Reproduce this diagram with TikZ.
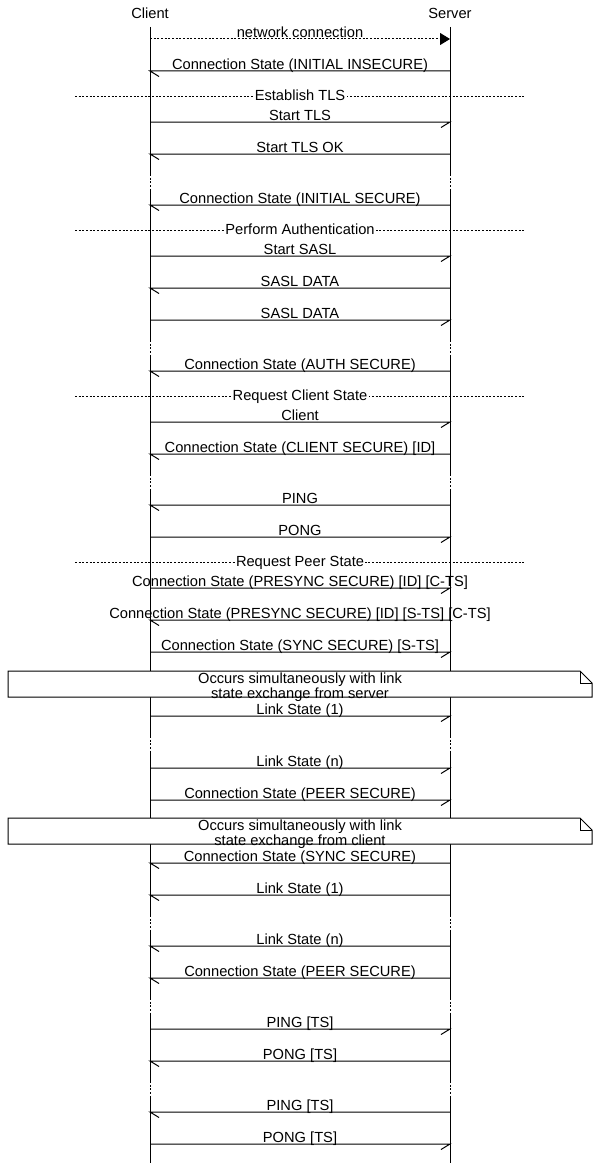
\documentclass[tikz,border=0pt]{standalone}
\usepackage{fontspec}
\setmainfont{Liberation Sans}
\usetikzlibrary{arrows.meta}
\tikzset{
  msg/.style={line width=0.75pt, line join=miter},
  lbl/.style={anchor=base, inner sep=0pt, yshift=1.3pt, font=\fontsize{11pt}{13pt}\selectfont},
  netmsg/.style={line width=0.75pt, dash pattern=on 1.5pt off 1.25pt, -{Triangle[length=7.5pt,width=9pt]}},
  divider/.style={line width=0.75pt, dash pattern=on 1.5pt off 1.25pt},
  divlbl/.style={anchor=base, fill=white, inner xsep=1pt, inner ysep=0pt, yshift=-3.6pt, font=\fontsize{11pt}{13pt}\selectfont},
  lifeline/.style={line width=0.75pt},
  lifegap/.style={line width=0.75pt, dash pattern=on 1.5pt off 1.25pt},
  head/.style={anchor=base, inner sep=0pt, font=\fontsize{11pt}{13pt}\selectfont},
  notebox/.style={line width=0.75pt, fill=white},
  notetext/.style={anchor=north, align=center, inner sep=0pt, font=\fontsize{11pt}{9.75pt}\selectfont},
}
\newcommand{\msgR}[3]{%
  \coordinate (c#1) at (150,#2); \coordinate (s#1) at (450,#2);
  \draw[msg] (c#1) -- node[lbl] (l#1) {#3} (s#1) -- ++(-9,5.5);}
\newcommand{\msgL}[3]{%
  \coordinate (c#1) at (150,#2); \coordinate (s#1) at (450,#2);
  \draw[msg] (s#1) -- node[lbl] (l#1) {#3} (c#1) -- ++(9,5.5);}
\newcommand{\divline}[3]{%
  \coordinate (dl#1) at (75,#2); \coordinate (dr#1) at (525,#2);
  \draw[divider] (dl#1) -- node[divlbl] (dt#1) {#3} (dr#1);}
\newcommand{\notebx}[4]{%
  \coordinate (nA#1) at (8,#2); \coordinate (nB#1) at (592,#3);
  \draw[notebox] (8,#2) -- (580,#2) -- (592,#2+12) -- (592,#3) -- (8,#3) -- cycle;
  \draw[line width=0.75pt] (580,#2) -- (580,#2+12) -- (592,#2+12);
  \node[notetext] (nt#1) at (300,#2+1.5) {#4};}
\begin{document}
\begin{tikzpicture}[x=0.75pt,y=-0.75pt]
\useasboundingbox (0,0) rectangle (600,1163);
% headers
\node[head] (client) at (150,18.5) {Client};
\node[head] (server) at (450,18.5) {Server};
% lifelines
\foreach \a/\b in {27/174,191/340,357/474,491/736,753/915,932/998,1015/1081,1098/1163}{
  \draw[lifeline] (150,\a) -- (150,\b);
  \draw[lifeline] (450,\a) -- (450,\b);
}
\foreach \a/\b in {174/191,340/357,474/491,736/753,915/932,998/1015,1081/1098}{
  \draw[lifegap] (150,\a) -- (150,\b);
  \draw[lifegap] (450,\a) -- (450,\b);
}
% messages
\coordinate (c0) at (150,39); \coordinate (s0) at (450,39);
\draw[netmsg] (c0) -- node[lbl] (l0) {network connection} (s0);
\msgL{1}{71}{Connection State (INITIAL INSECURE)}
\divline{1}{96}{Establish TLS}
\msgR{2}{122}{Start TLS}
\msgL{3}{154}{Start TLS OK}
\msgL{4}{205}{Connection State (INITIAL SECURE)}
\divline{2}{230}{Perform Authentication}
\msgR{5}{256}{Start SASL}
\msgL{6}{288}{SASL DATA}
\msgR{7}{320}{SASL DATA}
\msgL{8}{371}{Connection State (AUTH SECURE)}
\divline{3}{396}{Request Client State}
\msgR{9}{422}{Client}
\msgL{10}{454}{Connection State (CLIENT SECURE) [ID]}
\msgL{11}{505}{PING}
\msgR{12}{537}{PONG}
\divline{4}{562}{Request Peer State}
\msgR{13}{588}{Connection State (PRESYNC SECURE) [ID] [C-TS]}
\msgL{14}{620}{Connection State (PRESYNC SECURE) [ID] [S-TS] [C-TS]}
\msgR{15}{652}{Connection State (SYNC SECURE) [S-TS]}
\notebx{1}{671}{697}{Occurs simultaneously with link\\state exchange from server}
\msgR{16}{716}{Link State (1)}
\msgR{17}{768}{Link State (n)}
\msgR{18}{800}{Connection State (PEER SECURE)}
\notebx{2}{818}{844}{Occurs simultaneously with link\\state exchange from client}
\msgL{19}{863}{Connection State (SYNC SECURE)}
\msgL{20}{895}{Link State (1)}
\msgL{21}{946}{Link State (n)}
\msgL{22}{978}{Connection State (PEER SECURE)}
\msgR{23}{1029}{PING [TS]}
\msgL{24}{1061}{PONG [TS]}
\msgL{25}{1112}{PING [TS]}
\msgR{26}{1144}{PONG [TS]}
\end{tikzpicture}
\end{document}
